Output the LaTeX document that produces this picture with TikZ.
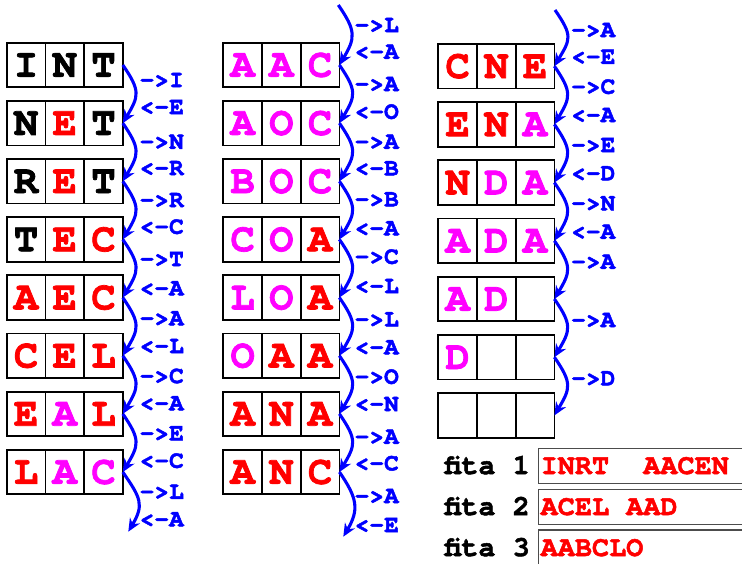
\documentclass[tikz,border=0pt]{standalone}
\usepackage{fontspec}
\newfontfamily\monof{texgyrecursor}[Extension=.otf, UprightFont=*-regular, BoldFont=*-bold, BoldFeatures={FakeBold=1.8}]
\usetikzlibrary{arrows.meta}
\definecolor{tred}{RGB}{255,0,0}
\definecolor{tmag}{RGB}{255,0,255}
\definecolor{tblue}{RGB}{0,0,255}
\newcommand\colR[1]{\textcolor{tred}{#1}}
\newcommand\colM[1]{\textcolor{tmag}{#1}}
\tikzset{
  cell/.style={draw=black, line width=1.8pt, minimum width=38.7pt, minimum height=44.5pt,
    inner sep=0pt, outer sep=0pt, font=\monof\bfseries\fontsize{40.5}{40.5}\selectfont},
  flow/.style={draw=tblue, line width=3.1pt, -{Stealth[length=13pt,width=11.5pt]}},
  lab/.style={text=tblue, anchor=west, inner sep=0pt, font=\monof\bfseries\fontsize{24.5}{24.5}\selectfont},
  tape/.style={draw=black!70, line width=1.3pt, anchor=north west, minimum width=240pt,
    minimum height=35pt, inner sep=0pt},
  tapetxt/.style={text=tred, anchor=base west, inner sep=0pt, font=\monof\bfseries\fontsize{28.5}{28.5}\selectfont},
  fitalab/.style={text=black, anchor=base east, inner sep=0pt, font=\monof\bfseries\fontsize{28.5}{28.5}\selectfont}
}
% #1 name prefix, #2 left x, #3 centre y, #4-#6 contents
\newcommand\cellrow[6]{%
  \node[cell] (#1a) at (#2+19.35,#3) {#4};
  \node[cell] (#1b) at (#2+58.05,#3) {#5};
  \node[cell] (#1c) at (#2+96.75,#3) {#6};}
\newcommand\flowto[2]{\draw[flow] (#1) .. controls +(18,26) and +(16,-27) .. (#2);}
\begin{document}
\begin{tikzpicture}[x=1pt,y=-1pt]
\useasboundingbox (0,0) rectangle (742,563);
% left column
\cellrow{La}{6.7}{65}{I}{N}{T}
\cellrow{Lb}{6.7}{123.15}{N}{\colR{E}}{T}
\cellrow{Lc}{6.7}{181.3}{R}{\colR{E}}{T}
\cellrow{Ld}{6.7}{239.45}{T}{\colR{E}}{\colR{C}}
\cellrow{Le}{6.7}{297.6}{\colR{A}}{\colR{E}}{\colR{C}}
\cellrow{Lf}{6.7}{355.75}{\colR{C}}{\colR{E}}{\colR{L}}
\cellrow{Lg}{6.7}{413.9}{\colR{E}}{\colM{A}}{\colR{L}}
\cellrow{Lh}{6.7}{472.05}{\colR{L}}{\colM{A}}{\colM{C}}
% middle column
\cellrow{Ma}{223.3}{65}{\colM{A}}{\colM{A}}{\colM{C}}
\cellrow{Mb}{223.3}{123.15}{\colM{A}}{\colM{O}}{\colM{C}}
\cellrow{Mc}{223.3}{181.3}{\colM{B}}{\colM{O}}{\colM{C}}
\cellrow{Md}{223.3}{239.45}{\colM{C}}{\colM{O}}{\colR{A}}
\cellrow{Me}{223.3}{297.6}{\colM{L}}{\colM{O}}{\colR{A}}
\cellrow{Mf}{223.3}{355.75}{\colM{O}}{\colR{A}}{\colR{A}}
\cellrow{Mg}{223.3}{413.9}{\colR{A}}{\colR{N}}{\colR{A}}
\cellrow{Mh}{223.3}{472.05}{\colR{A}}{\colR{N}}{\colR{C}}
% right column
\cellrow{Ra}{438.3}{66.2}{\colR{C}}{\colR{N}}{\colR{E}}
\cellrow{Rb}{438.3}{124.4}{\colR{E}}{\colR{N}}{\colM{A}}
\cellrow{Rc}{438.3}{182.6}{\colR{N}}{\colM{D}}{\colM{A}}
\cellrow{Rd}{438.3}{240.8}{\colM{A}}{\colM{D}}{\colM{A}}
\cellrow{Re}{438.3}{299}{\colM{A}}{\colM{D}}{}
\cellrow{Rf}{438.3}{357.2}{\colM{D}}{}{}
\cellrow{Rg}{438.3}{415.4}{}{}{}
% free ends
\coordinate (Lend) at (128.3,531.7);
\coordinate (Mtop) at (338.3,5);
\coordinate (Mend) at (343.3,536.7);
\coordinate (Rtop) at (555,10);
% arrows
\flowto{Lac.east}{Lbc.east}
\flowto{Lbc.east}{Lcc.east}
\flowto{Lcc.east}{Ldc.east}
\flowto{Ldc.east}{Lec.east}
\flowto{Lec.east}{Lfc.east}
\flowto{Lfc.east}{Lgc.east}
\flowto{Lgc.east}{Lhc.east}
\flowto{Lhc.east}{Lend}
\flowto{Mtop}{Mac.east}
\flowto{Mac.east}{Mbc.east}
\flowto{Mbc.east}{Mcc.east}
\flowto{Mcc.east}{Mdc.east}
\flowto{Mdc.east}{Mec.east}
\flowto{Mec.east}{Mfc.east}
\flowto{Mfc.east}{Mgc.east}
\flowto{Mgc.east}{Mhc.east}
\flowto{Mhc.east}{Mend}
\flowto{Rtop}{Rac.east}
\flowto{Rac.east}{Rbc.east}
\flowto{Rbc.east}{Rcc.east}
\flowto{Rcc.east}{Rdc.east}
\flowto{Rdc.east}{Rec.east}
\flowto{Rec.east}{Rfc.east}
\flowto{Rfc.east}{Rgc.east}
% labels
\foreach \t/\y [count=\i] in {->I/80, <-E/107, ->N/141.7, <-R/168, ->R/200, <-C/226.7, ->T/259, <-A/288.3,
  ->A/318.3, <-L/346, ->C/376, <-A/403.3, ->E/433.3, <-C/460.7, ->L/491.7, <-A/519.3}
  \node[lab] (lL\i) at (139.5,\y) {\t};
\foreach \t/\y [count=\i] in {->L/25, <-A/51.7, ->A/84, <-O/111.7, ->A/141.7, <-B/168.3, ->B/199.3, <-A/228.3,
  ->C/256.7, <-L/286, ->L/319.3, <-A/347.3, ->O/376.7, <-N/404, ->A/436.7, <-C/463.3, ->A/496, <-E/525}
  \node[lab] (lM\i) at (354.5,\y) {\t};
\foreach \t/\y [count=\i] in {->A/30, <-E/56.7, ->C/86.7, <-A/115, ->E/145, <-D/173.3, ->N/203.3, <-A/231.7,
  ->A/261.7, ->A/320, ->D/378.3}
  \node[lab] (lR\i) at (571,\y) {\t};
% tapes
\node[tape] (t1) at (537.7,447.7) {};
\node[tape] (t2) at (537.7,488.7) {};
\node[tape] (t3) at (537.7,529.3) {};
\node[fitalab] (f1) at (530,474) {fita 1};
\node[fitalab] (f2) at (530,515) {fita 2};
\node[fitalab] (f3) at (530,556) {fita 3};
\node[tapetxt] (x1) at (540.5,474) {INRT~~AACEN};
\node[tapetxt] (x2) at (540.5,515) {ACEL~AAD};
\node[tapetxt] (x3) at (540.5,556) {AABCLO};
\end{tikzpicture}
\end{document}
